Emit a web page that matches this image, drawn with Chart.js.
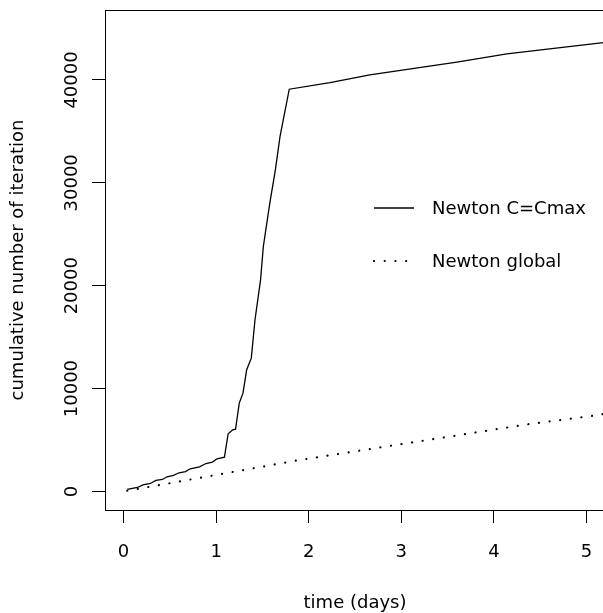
<!DOCTYPE html>
<html lang="en">
<head>
    <meta charset="UTF-8">
    <title>Cumulative iterations</title>
    <script src="https://cdn.jsdelivr.net/npm/chart.js"></script>
    <style>
        html, body { margin: 0; padding: 0; background: #ffffff; overflow: hidden; }
        canvas { display: block; }
    </style>
</head>
<body>
    <canvas id="chart" width="620" height="613"></canvas>

    <script>
        // Newton C=Cmax (time in days, cumulative iterations)
        const cmaxDays = [0.04, 0.15, 0.21, 0.29, 0.35, 0.42, 0.47, 0.54, 0.60, 0.67, 0.72, 0.82, 0.89, 0.96, 1.01, 1.09,
                          1.13, 1.18, 1.21, 1.25, 1.29, 1.33, 1.38, 1.42, 1.48, 1.51, 1.58, 1.64, 1.69, 1.79,
                          2.23, 2.66, 3.60, 4.14, 5.18];
        const cmaxIter = [200, 390, 650, 780, 1070, 1170, 1430, 1560, 1820, 1940, 2210, 2400, 2720, 2860, 3180, 3340,
                          5610, 6000, 6060, 8590, 9560, 11830, 12960, 16690, 20570, 23810, 28020, 31260, 34490, 39100,
                          39750, 40500, 41730, 42540, 43630];
        // Newton global
        const globalDays = [0.04, 1.07, 1.87, 4.38, 5.07, 5.2];
        const globalIter = [70, 1720, 3010, 6550, 7360, 7550];

        const xTicks = [0, 1, 2, 3, 4, 5];
        const yTicks = [0, 10000, 20000, 30000, 40000];
        const xLabels = ['0', '1', '2', '3', '4', '5'];
        const yLabels = ['0', '10000', '20000', '30000', '40000'];

        const FONT = { family: 'DejaVu Sans', size: 18 };

        function toPoints(xs, ys) {
            return xs.map((x, i) => ({ x: x, y: ys[i] }));
        }

        // R style box around the plot region + legend inside it
        const boxAndLegend = {
            id: 'boxAndLegend',
            afterDraw(chart) {
                const { ctx, chartArea } = chart;
                ctx.save();
                ctx.strokeStyle = '#000';
                ctx.lineWidth = 1;
                ctx.strokeRect(chartArea.left + 0.5, chartArea.top + 0.5,
                    chartArea.right - chartArea.left, chartArea.bottom - chartArea.top);

                const lx = chartArea.left + 269;
                const rows = [chartArea.top + 198, chartArea.top + 251];
                ctx.font = FONT.size + 'px ' + FONT.family;
                ctx.textBaseline = 'middle';
                ctx.fillStyle = '#000';
                chart.data.datasets.forEach((ds, i) => {
                    const y = rows[i];
                    ctx.beginPath();
                    ctx.lineWidth = ds.borderWidth;
                    ctx.setLineDash(ds.borderDash || []);
                    ctx.lineCap = ds.borderCapStyle || 'butt';
                    ctx.moveTo(lx, y);
                    ctx.lineTo(lx + 40, y);
                    ctx.stroke();
                    ctx.setLineDash([]);
                    ctx.fillText(ds.label, lx + 58, y + 1);
                });
                ctx.restore();
            }
        };

        new Chart(document.getElementById('chart'), {
            type: 'scatter',
            data: {
                datasets: [{
                    label: 'Newton C=Cmax',
                    data: toPoints(cmaxDays, cmaxIter),
                    showLine: true,
                    borderColor: '#000',
                    borderWidth: 1.3,
                    pointRadius: 0,
                    tension: 0
                }, {
                    label: 'Newton global',
                    data: toPoints(globalDays, globalIter),
                    showLine: true,
                    borderColor: '#000',
                    borderWidth: 2.2,
                    borderDash: [0.1, 10.6],
                    borderCapStyle: 'round',
                    pointRadius: 0,
                    tension: 0
                }]
            },
            options: {
                responsive: false,
                animation: false,
                layout: { padding: { top: 10, right: 15, left: 0, bottom: 0 } },
                plugins: {
                    legend: { display: false },
                    tooltip: { enabled: false }
                },
                scales: {
                    x: {
                        type: 'linear',
                        min: -0.2,
                        max: 5.2,
                        afterBuildTicks: s => { s.ticks = xTicks.map(v => ({ value: v })); },
                        afterFit: s => { s.height = 103; },
                        border: { display: false },
                        grid: { drawOnChartArea: false, tickLength: 13, color: '#000', lineWidth: 1 },
                        ticks: {
                            color: '#000', font: FONT, padding: 19, maxRotation: 0,
                            callback: (v) => xLabels[xTicks.indexOf(v)]
                        },
                        title: {
                            display: true, text: 'time (days)', color: '#000', font: FONT,
                            padding: { top: 0, bottom: -1 }
                        }
                    },
                    y: {
                        type: 'linear',
                        min: -1800,
                        max: 46800,
                        afterBuildTicks: s => { s.ticks = yTicks.map(v => ({ value: v })); },
                        afterFit: s => { s.width = 105; },
                        border: { display: false },
                        grid: { drawOnChartArea: false, tickLength: 13, color: '#000', lineWidth: 1 },
                        ticks: {
                            color: '#000', font: FONT, padding: -9,
                            minRotation: 90, maxRotation: 90, crossAlign: 'center',
                            callback: (v) => yLabels[yTicks.indexOf(v)]
                        },
                        title: {
                            display: true, text: 'cumulative number of iteration', color: '#000', font: FONT,
                            padding: { top: 8, bottom: 0 }
                        }
                    }
                }
            },
            plugins: [boxAndLegend]
        });
    </script>
</body>
</html>
